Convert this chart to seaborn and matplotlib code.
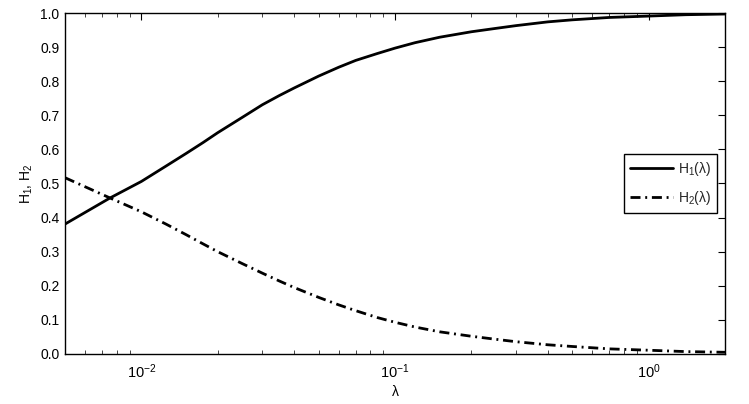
import numpy as np
import pandas as pd
import matplotlib
matplotlib.use("Agg")
import matplotlib.pyplot as plt
import seaborn as sns
from matplotlib.ticker import LogLocator, FixedLocator, FormatStrFormatter, NullFormatter

# ---- data ----
lam = [0.005, 0.0075, 0.01, 0.0125, 0.015, 0.0175, 0.02, 0.025, 0.03, 0.035,
       0.04, 0.05, 0.06, 0.07, 0.085, 0.1, 0.12, 0.15, 0.2, 0.25, 0.3, 0.4,
       0.5, 0.7, 1.0, 1.4, 2.0]
h1 = [0.381, 0.457, 0.506, 0.551, 0.588, 0.620, 0.649, 0.694, 0.731, 0.758,
      0.780, 0.815, 0.841, 0.861, 0.881, 0.897, 0.913, 0.929, 0.945, 0.955,
      0.963, 0.974, 0.980, 0.987, 0.991, 0.995, 0.997]
h2 = [0.517, 0.458, 0.417, 0.381, 0.350, 0.323, 0.300, 0.265, 0.237, 0.214,
      0.195, 0.166, 0.144, 0.127, 0.107, 0.093, 0.079, 0.065, 0.052, 0.043,
      0.036, 0.027, 0.022, 0.015, 0.011, 0.007, 0.005]
series_names = ["H1", "H2"]
legend_labels = ["H$_1$(λ)", "H$_2$(λ)"]
y_ticks = [0.0, 0.1, 0.2, 0.3, 0.4, 0.5, 0.6, 0.7, 0.8, 0.9, 1.0]

df = pd.DataFrame({
    "lam": lam * 2,
    "H": h1 + h2,
    "series": [series_names[0]] * len(lam) + [series_names[1]] * len(lam),
})

sns.set_theme(style="white")
plt.rcParams["font.family"] = ["Liberation Sans", "DejaVu Sans"]
plt.rcParams["mathtext.fontset"] = "custom"
plt.rcParams["mathtext.rm"] = "Liberation Sans"
plt.rcParams["mathtext.it"] = "Liberation Sans:italic"
plt.rcParams["mathtext.default"] = "regular"

fig = plt.figure(figsize=(7.49, 4.04), dpi=100)
ax = fig.add_axes([0.0868, 0.1238, 0.968 - 0.0868, 0.9678 - 0.1238])

sns.lineplot(data=df, x="lam", y="H", style="series", color="black",
             dashes={"H1": "", "H2": (3.6, 1.7, 0.7, 1.7)}, linewidth=2.0,
             ax=ax, legend=False, estimator=None)

ax.set_xscale("log")
ax.set_xlim(0.005, 2.0)
ax.set_ylim(0.0, 1.0)
ax.yaxis.set_major_locator(FixedLocator(y_ticks))
ax.yaxis.set_major_formatter(FormatStrFormatter("%.1f"))
ax.xaxis.set_major_locator(LogLocator(base=10))
ax.xaxis.set_minor_locator(LogLocator(base=10, subs=np.arange(2, 10)))
ax.xaxis.set_minor_formatter(NullFormatter())

ax.tick_params(axis="both", which="major", direction="in", length=5, width=0.8,
               top=True, right=True, labelsize=10, colors="black", pad=4)
ax.tick_params(axis="x", which="major", labelsize=10.5, pad=6)
ax.tick_params(axis="x", which="minor", direction="in", length=3, width=0.6,
               top=True, bottom=True)
for s in ax.spines.values():
    s.set_visible(True)
    s.set_color("black")
    s.set_linewidth(1.0)

ax.set_xlabel("λ", fontsize=10, color="black", labelpad=3)
ax.set_ylabel("H$_1$, H$_2$", fontsize=10, color="black", labelpad=4)

lines = ax.get_lines()
leg = ax.legend(lines[:2], legend_labels, loc="center left",
                bbox_to_anchor=(0.847, 0.50), fontsize=10, frameon=True,
                fancybox=False, edgecolor="black", framealpha=1,
                handlelength=3.1, handletextpad=0.3, borderpad=0.45,
                labelspacing=0.75, borderaxespad=0)
leg.get_frame().set_linewidth(1.0)

fig.savefig("out.png", dpi=100)
